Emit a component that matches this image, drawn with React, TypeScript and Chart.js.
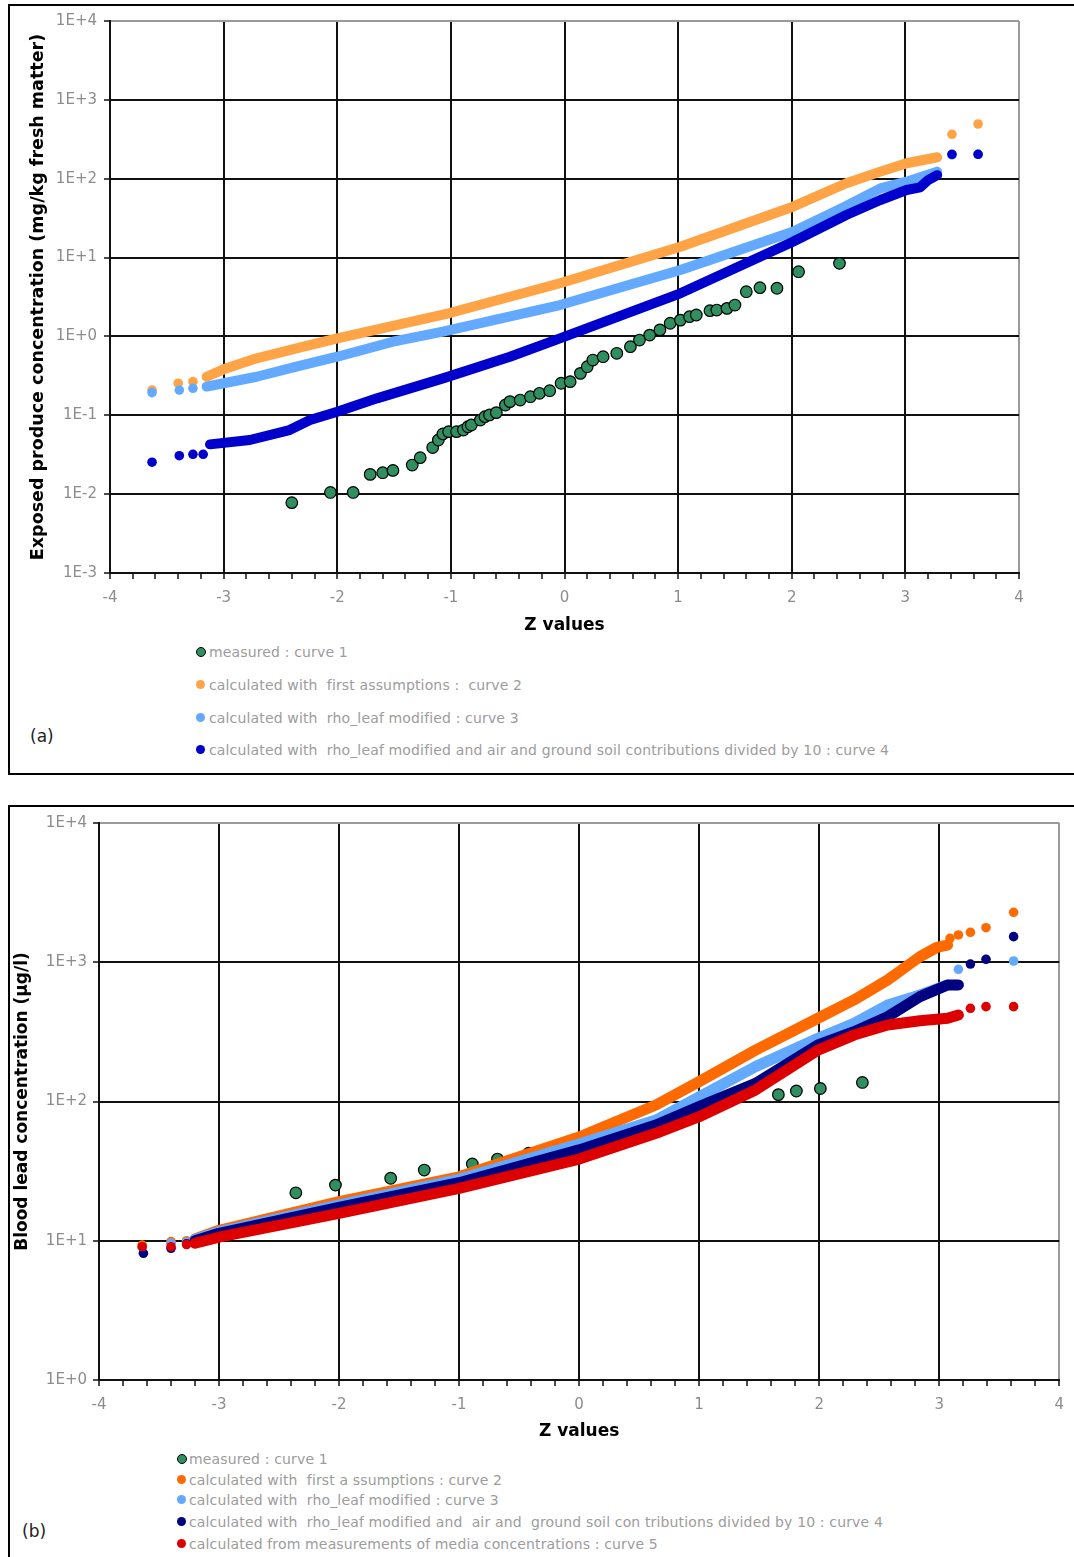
import React, { useEffect, useRef } from 'react';
import { Chart, registerables } from 'chart.js';

Chart.register(...registerables);

const FONT = '"DejaVu Sans", Verdana, sans-serif';

// ---------- Panel (a) data ----------
const aYTickValues = [1e-3, 1e-2, 1e-1, 1, 10, 100, 1000, 10000];
const aYTickLabels = ['1E-3', '1E-2', '1E-1', '1E+0', '1E+1', '1E+2', '1E+3', '1E+4'];

const aMeasuredZ = [-2.40, -2.06, -1.86, -1.71, -1.60, -1.51, -1.34, -1.27, -1.16, -1.11, -1.07, -1.02, -0.95, -0.89, -0.85, -0.82, -0.74, -0.70, -0.66, -0.60, -0.52, -0.48, -0.39, -0.30, -0.22, -0.13, -0.03, 0.05, 0.14, 0.20, 0.25, 0.34, 0.46, 0.58, 0.66, 0.75, 0.84, 0.93, 1.02, 1.10, 1.16, 1.28, 1.34, 1.43, 1.50, 1.60, 1.72, 1.87, 2.06, 2.42];
const aMeasuredV = [0.0078, 0.0105, 0.0105, 0.0178, 0.0187, 0.020, 0.0234, 0.029, 0.039, 0.0486, 0.058, 0.062, 0.062, 0.065, 0.0716, 0.0753, 0.087, 0.096, 0.101, 0.108, 0.135, 0.149, 0.156, 0.172, 0.190, 0.205, 0.255, 0.267, 0.340, 0.413, 0.502, 0.553, 0.611, 0.741, 0.90, 1.04, 1.21, 1.47, 1.61, 1.78, 1.87, 2.12, 2.16, 2.27, 2.50, 3.69, 4.15, 4.08, 6.62, 8.45];

const aCurve2Z = [-3.15, -3.00, -2.71, -2.36, -2.00, -1.01, -0.04, 1.02, 2.01, 2.48, 2.78, 3.01, 3.28];
const aCurve2V = [0.308, 0.383, 0.528, 0.707, 0.946, 1.98, 4.72, 13.7, 44.2, 87.5, 123, 157, 187];
const aCurve2TailZ = [-3.63, -3.40, -3.27, 3.41, 3.64];
const aCurve2TailV = [0.209, 0.255, 0.267, 366, 494];

const aCurve3Z = [-3.15, -3.00, -2.71, -2.36, -2.00, -1.51, -1.07, -0.04, 1.02, 2.01, 2.48, 2.78, 3.01, 3.28];
const aCurve3V = [0.231, 0.255, 0.308, 0.413, 0.553, 0.857, 1.15, 2.50, 6.96, 21.3, 45.1, 75.5, 91.6, 123];
const aCurve3TailZ = [-3.63, -3.39, -3.27, 3.41, 3.64];
const aCurve3TailV = [0.194, 0.209, 0.220, 200, 204];

const aCurve4Z = [-3.12, -2.77, -2.42, -2.24, -2.00, -1.65, -1.07, -0.48, -0.04, 1.02, 2.01, 2.48, 2.78, 3.01, 3.13, 3.20, 3.28];
const aCurve4V = [0.0428, 0.0486, 0.065, 0.087, 0.111, 0.164, 0.294, 0.553, 0.946, 3.52, 15.9, 34.7, 53.7, 71.9, 77.8, 96, 111];
const aCurve4TailZ = [-3.63, -3.39, -3.27, -3.18, 3.41, 3.64];
const aCurve4TailV = [0.0254, 0.0307, 0.032, 0.032, 204, 204];

const aLabels = [
  'measured : curve 1',
  'calculated with  first assumptions :  curve 2',
  'calculated with  rho_leaf modified : curve 3',
  'calculated with  rho_leaf modified and air and ground soil contributions divided by 10 : curve 4',
];

// ---------- Panel (b) data ----------
const bYTickValues = [1, 10, 100, 1000, 10000];
const bYTickLabels = ['1E+0', '1E+1', '1E+2', '1E+3', '1E+4'];

const bMeasuredZ = [-2.36, -2.03, -1.57, -1.29, -0.89, -0.68, -0.42, -0.25, -0.07, 0.83, 1.02, 1.66, 1.81, 2.01, 2.36];
const bMeasuredV = [22.1, 25.1, 28.1, 32.2, 35.6, 38.6, 42.5, 45.4, 50.4, 77.8, 86.9, 112, 119, 124, 137];

const bCurve2Z = [-3.20, -3.00, -2.00, -1.00, 0.00, 0.64, 1.00, 1.47, 1.99, 2.29, 2.57, 2.84, 2.98, 3.07];
const bCurve2V = [10.3, 11.9, 19.1, 28.8, 55.6, 94.4, 139, 234, 396, 536, 746, 1097, 1280, 1330];
const bCurve2TailZ = [-3.64, -3.40, -3.27, 3.09, 3.16, 3.26, 3.39, 3.62];
const bCurve2TailV = [9.3, 9.85, 10.0, 1486, 1570, 1641, 1770, 2285];

const bCurve3Z = [-3.20, -3.00, -2.00, -1.00, 0.00, 0.64, 1.00, 1.47, 1.99, 2.29, 2.57, 2.84, 3.07];
const bCurve3V = [10.2, 11.6, 18.1, 27.6, 49.5, 73.6, 108, 178, 284, 364, 493, 582, 687];
const bCurve3TailZ = [-3.64, -3.40, -3.27, 3.16, 3.62];
const bCurve3TailV = [9.0, 9.6, 9.8, 890, 1021];

const bCurve4Z = [-3.20, -3.00, -2.00, -1.00, 0.00, 0.64, 1.00, 1.47, 1.99, 2.29, 2.57, 2.84, 3.07, 3.16];
const bCurve4V = [10.0, 11.3, 17.4, 26.1, 44.9, 67.8, 91.8, 135, 255, 317, 406, 566, 687, 687];
const bCurve4TailZ = [-3.63, -3.40, -3.27, 3.26, 3.39, 3.62];
const bCurve4TailV = [8.13, 8.83, 9.5, 971, 1050, 1527];

const bCurve5Z = [-3.20, -3.00, -2.00, -1.00, 0.00, 0.64, 1.00, 1.47, 1.99, 2.29, 2.57, 2.84, 3.07, 3.16];
const bCurve5V = [9.6, 10.6, 15.7, 23.8, 38.6, 59.1, 77.8, 121, 234, 300, 354, 380, 396, 418];
const bCurve5TailZ = [-3.64, -3.40, -3.27, 3.26, 3.39, 3.62];
const bCurve5TailV = [9.06, 9.06, 9.4, 467, 480, 480];

const bLabels = [
  'measured : curve 1',
  'calculated with  first a ssumptions : curve 2',
  'calculated with  rho_leaf modified : curve 3',
  'calculated with  rho_leaf modified and  air and  ground soil con tributions divided by 10 : curve 4',
  'calculated from measurements of media concentrations : curve 5',
];

// ---------- colours ----------
const GREEN = '#2f8f5f';
const aColors = [GREEN, '#ffa347', '#63a9ff', '#0000cc'];
const bColors = [GREEN, '#ff6a00', '#63a9ff', '#000080', '#dd0000'];

// x axis ticks (major every 1, minor every 0.2)
const X_TICKS: number[] = [];
for (let k = -20; k <= 20; k++) X_TICKS.push(k / 5);

const isInt = (v: number) => Math.abs(v - Math.round(v)) < 1e-6;

type SeriesDef = {
  color: string;
  measured?: boolean;
  bodyZ: number[];
  bodyV: number[];
  pointZ: number[];
  pointV: number[];
};

const pts = (z: number[], v: number[]) => z.map((x, i) => ({ x, y: v[i] }));

const aSeries: SeriesDef[] = [
  { color: aColors[0], measured: true, bodyZ: [], bodyV: [], pointZ: aMeasuredZ, pointV: aMeasuredV },
  { color: aColors[1], bodyZ: aCurve2Z, bodyV: aCurve2V, pointZ: aCurve2TailZ, pointV: aCurve2TailV },
  { color: aColors[2], bodyZ: aCurve3Z, bodyV: aCurve3V, pointZ: aCurve3TailZ, pointV: aCurve3TailV },
  { color: aColors[3], bodyZ: aCurve4Z, bodyV: aCurve4V, pointZ: aCurve4TailZ, pointV: aCurve4TailV },
];

const bSeries: SeriesDef[] = [
  { color: bColors[0], measured: true, bodyZ: [], bodyV: [], pointZ: bMeasuredZ, pointV: bMeasuredV },
  { color: bColors[1], bodyZ: bCurve2Z, bodyV: bCurve2V, pointZ: bCurve2TailZ, pointV: bCurve2TailV },
  { color: bColors[2], bodyZ: bCurve3Z, bodyV: bCurve3V, pointZ: bCurve3TailZ, pointV: bCurve3TailV },
  { color: bColors[3], bodyZ: bCurve4Z, bodyV: bCurve4V, pointZ: bCurve4TailZ, pointV: bCurve4TailV },
  { color: bColors[4], bodyZ: bCurve5Z, bodyV: bCurve5V, pointZ: bCurve5TailZ, pointV: bCurve5TailV },
];

type PanelProps = {
  top: number;
  height: number;
  areaLeft: number;
  areaRight: number;
  areaTop: number;
  areaBottom: number;
  yMin: number;
  yMax: number;
  yTickValues: number[];
  yTickLabels: string[];
  yTitle: string;
  yTitleSize: number;
  yTitlePad: number;
  yTickPad: number;
  xTickPad: number;
  xTitlePad: number;
  series: SeriesDef[];
  bandWidth: number;
};

function ZChart(p: PanelProps) {
  const ref = useRef<HTMLCanvasElement | null>(null);
  useEffect(() => {
    if (!ref.current) return;
    const datasets: any[] = [];
    p.series.forEach((s, i) => {
      const order = 100 - i;
      if (s.bodyZ.length) {
        datasets.push({
          type: 'scatter',
          data: pts(s.bodyZ, s.bodyV),
          showLine: true,
          borderColor: s.color,
          backgroundColor: s.color,
          borderWidth: p.bandWidth,
          borderCapStyle: 'round',
          borderJoinStyle: 'round',
          pointRadius: 0,
          pointHoverRadius: 0,
          tension: 0,
          order,
        });
      }
      datasets.push({
        type: 'scatter',
        data: pts(s.pointZ, s.pointV),
        showLine: false,
        pointStyle: 'circle',
        pointRadius: s.measured ? 5.8 : 4.8,
        pointBackgroundColor: s.color,
        pointBorderColor: s.measured ? '#000' : s.color,
        pointBorderWidth: s.measured ? 1.2 : 0,
        order,
      });
    });

    const W = 1074;
    const chart = new Chart(ref.current, {
      type: 'scatter',
      data: { datasets },
      options: {
        animation: false,
        responsive: false,
        maintainAspectRatio: false,
        devicePixelRatio: 1,
        layout: { padding: { left: 0, top: p.areaTop, right: W - p.areaRight, bottom: 0 } },
        plugins: { legend: { display: false }, tooltip: { enabled: false } },
        scales: {
          x: {
            type: 'linear',
            min: -4,
            max: 4,
            afterBuildTicks: (s: any) => {
              s.ticks = X_TICKS.map((v) => ({ value: v }));
            },
            afterFit: (s: any) => {
              s.height = p.height - p.areaBottom;
            },
            ticks: {
              autoSkip: false,
              maxRotation: 0,
              minRotation: 0,
              padding: p.xTickPad,
              color: '#8c8c8c',
              font: { family: FONT, size: 15 },
              callback: (v: any) => (isInt(Number(v)) ? String(Math.round(Number(v))) : ''),
            },
            grid: {
              color: (ctx: any) => {
                const v = ctx.tick ? ctx.tick.value : 0;
                if (Math.abs(v - 4) < 1e-6) return '#9a9a9a';
                return isInt(v) ? '#111' : 'rgba(0,0,0,0)';
              },
              lineWidth: 2,
              tickColor: '#111',
              tickWidth: 1.5,
              tickLength: 6,
              drawTicks: true,
            },
            border: { display: true, color: '#111', width: 2 },
            title: {
              display: true,
              text: 'Z values',
              color: '#000',
              font: { family: FONT, size: 17, weight: 'bold' },
              padding: { top: 0, bottom: p.xTitlePad },
            },
          },
          y: {
            type: 'logarithmic',
            min: p.yMin,
            max: p.yMax,
            afterBuildTicks: (s: any) => {
              s.ticks = p.yTickValues.map((v) => ({ value: v, major: true }));
            },
            afterFit: (s: any) => {
              s.width = p.areaLeft;
            },
            ticks: {
              autoSkip: false,
              padding: p.yTickPad,
              color: '#8c8c8c',
              font: { family: FONT, size: 15 },
              callback: (v: any) => {
                const idx = p.yTickValues.findIndex((t) => Math.abs(Math.log10(t) - Math.log10(Number(v))) < 1e-6);
                return idx >= 0 ? p.yTickLabels[idx] : '';
              },
            },
            grid: {
              color: (ctx: any) => {
                const v = ctx.tick ? ctx.tick.value : 0;
                return Math.abs(v - p.yMax) < 1e-9 * p.yMax ? '#9a9a9a' : '#111';
              },
              lineWidth: 2,
              tickColor: '#111',
              tickWidth: 1.5,
              tickLength: 6,
              drawTicks: true,
            },
            border: { display: true, color: '#111', width: 2 },
            title: {
              display: true,
              text: p.yTitle,
              color: '#000',
              font: { family: FONT, size: p.yTitleSize, weight: 'bold' },
              padding: { top: p.yTitlePad, bottom: 0 },
            },
          },
        },
      } as any,
    });
    return () => chart.destroy();
  }, []);

  return (
    <canvas
      ref={ref}
      width={1074}
      height={p.height}
      style={{ position: 'absolute', left: 0, top: p.top, width: 1074, height: p.height }}
    />
  );
}

function Legend({ labels, colors, x, textX, ys, measuredIdx }: { labels: string[]; colors: string[]; x: number; textX: number; ys: number[]; measuredIdx: number }) {
  return (
    <>
      {labels.map((l, i) => (
        <React.Fragment key={i}>
          <span
            style={{
              position: 'absolute',
              left: x - 5,
              top: ys[i] - 5,
              width: i === measuredIdx ? 8 : 9,
              height: i === measuredIdx ? 8 : 9,
              borderRadius: '50%',
              background: colors[i],
              border: i === measuredIdx ? '1px solid #000' : 'none',
            }}
          />
          <div
            style={{
              position: 'absolute',
              left: textX,
              top: ys[i] - 9,
              height: 18,
              lineHeight: '18px',
              fontFamily: FONT,
              fontSize: 14,
              letterSpacing: '0.15px',
              color: '#9c9c9c',
              whiteSpace: 'pre',
            }}
          >
            {l}
          </div>
        </React.Fragment>
      ))}
    </>
  );
}

export default function App() {
  return (
    <div style={{ position: 'relative', width: 1074, height: 1557 - 8, overflow: 'hidden', margin: 0 }}>
      <div style={{ position: 'fixed', left: 0, top: 0, width: 1074, height: 1557, overflow: 'hidden', background: '#fff' }}>
        {/* panel (a) frame */}
        <div
          style={{
            position: 'absolute',
            left: 8,
            top: 4,
            width: 1066,
            height: 771,
            boxSizing: 'border-box',
            borderTop: '2px solid #000',
            borderLeft: '2px solid #000',
            borderBottom: '2px solid #000',
          }}
        />
        {/* panel (b) frame */}
        <div
          style={{
            position: 'absolute',
            left: 8,
            top: 805,
            width: 1066,
            height: 752,
            boxSizing: 'border-box',
            borderTop: '2px solid #000',
            borderLeft: '2px solid #000',
          }}
        />
        <ZChart
          top={0}
          height={640}
          areaLeft={110}
          areaRight={1019}
          areaTop={21}
          areaBottom={573}
          yMin={1e-3}
          yMax={1e4}
          yTickValues={aYTickValues}
          yTickLabels={aYTickLabels}
          yTitle="Exposed produce concentration (mg/kg fresh matter)"
          yTitleSize={17.5}
          yTitlePad={27.5}
          yTickPad={7}
          xTickPad={10}
          xTitlePad={4}
          series={aSeries}
          bandWidth={10}
        />
        <ZChart
          top={800}
          height={650}
          areaLeft={99}
          areaRight={1063}
          areaTop={23}
          areaBottom={580}
          yMin={1}
          yMax={1e4}
          yTickValues={bYTickValues}
          yTickLabels={bYTickLabels}
          yTitle="Blood lead concentration (µg/l)"
          yTitleSize={17}
          yTitlePad={12}
          yTickPad={6}
          xTickPad={10}
          xTitlePad={8}
          series={bSeries}
          bandWidth={11}
        />
        <Legend labels={aLabels} colors={aColors} x={201} textX={209} ys={[652, 685, 718, 750]} measuredIdx={0} />
        <Legend labels={bLabels} colors={bColors} x={182} textX={189} ys={[1459, 1480, 1500, 1522, 1544]} measuredIdx={0} />
        <div style={{ position: 'absolute', left: 30, top: 726, fontFamily: FONT, fontSize: 17, color: '#222', lineHeight: '20px' }}>(a)</div>
        <div style={{ position: 'absolute', left: 22, top: 1521, fontFamily: FONT, fontSize: 17, color: '#222', lineHeight: '20px' }}>(b)</div>
      </div>
    </div>
  );
}
